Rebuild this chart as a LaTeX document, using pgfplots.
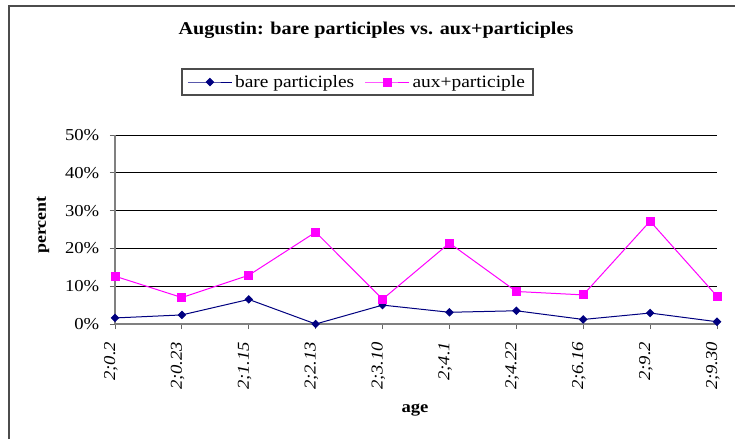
\documentclass[border=0pt]{standalone}
\usepackage{fontspec}
\setmainfont[FakeStretch=1.12]{Liberation Serif}
\usepackage{pgfplots}
\pgfplotsset{compat=1.18}
\definecolor{navy}{HTML}{000080}
\definecolor{mag}{HTML}{FF00FF}
\begin{document}
\begin{tikzpicture}
\useasboundingbox (0,0) rectangle (551.25pt,329.25pt);
\fill[white] (0,0) rectangle (551.25pt,329.25pt);
\draw[line width=1.2pt, black!70] (6.75pt,0pt) -- (6.75pt,324.75pt) -- (551.25pt,324.75pt);
\node[font=\fontsize{13.5}{16}\selectfont\bfseries] at (282pt,306.5pt) {Augustin: bare participles vs. aux+participles};
\begin{axis}[
  at={(86.25pt,86.25pt)}, anchor=south west,
  scale only axis, width=451.5pt, height=141.75pt,
  xmin=0, xmax=9, ymin=0, ymax=50,
  axis x line*=bottom, axis y line*=left,
  axis line style={draw=black!50, line width=1pt},
  ymajorgrids, grid style={black, line width=0.7pt},
  tick align=outside, major tick length=3.75pt,
  tick style={black!60, line width=0.75pt},
  xtick={0,...,9},
  xticklabels={2;0.2,2;0.23,2;1.15,2;2.13,2;3.10,2;4.1,2;4.22,2;6.16,2;9.2,2;9.30},
  xticklabel style={yshift=-6pt, rotate=90, anchor=base east, font=\fontsize{12.5}{14}\selectfont\itshape},
  ytick={0,10,...,50},
  yticklabels={0\%,10\%,20\%,30\%,40\%,50\%},
  yticklabel style={xshift=-4.5pt, font=\fontsize{12.5}{14}\selectfont},
  xlabel={age}, ylabel={percent},
  xlabel style={font=\fontsize{12.5}{14}\selectfont\bfseries, at={(axis description cs:0.4983,-0.4550)}, anchor=center},
  ylabel style={font=\fontsize{12}{14}\selectfont\bfseries, at={(axis description cs:-0.1196,0.524)}, anchor=center},
  legend columns=2,
  legend style={at={(axis description cs:0.4028,1.2804)}, anchor=center,
    draw=black!70, line width=1pt, font=\fontsize{13}{15}\selectfont,
    inner xsep=4pt, inner ysep=2.5pt,
    /tikz/every even column/.append style={column sep=6pt}},
  legend image code/.code={\draw[mark repeat=2,mark phase=2,#1] plot coordinates {(0pt,0pt) (16.5pt,0pt) (33pt,0pt)};},
]
\addplot[navy, line width=0.75pt, mark=square*, mark size=1.9pt, mark options={rotate=45, fill=navy, draw=navy}]
  coordinates {(0,1.6) (1,2.4) (2,6.5) (3,0) (4,5.0) (5,3.1) (6,3.5) (7,1.2) (8,2.9) (9,0.6)};
\addlegendentry{bare participles}
\addplot[mag, line width=0.75pt, mark=square*, mark size=3pt, mark options={fill=mag, draw=mag}]
  coordinates {(0,12.65) (1,7.0) (2,12.9) (3,24.3) (4,6.55) (5,21.4) (6,8.6) (7,7.7) (8,27.2) (9,7.35)};
\addlegendentry{aux+participle}
\end{axis}
\end{tikzpicture}
\end{document}
